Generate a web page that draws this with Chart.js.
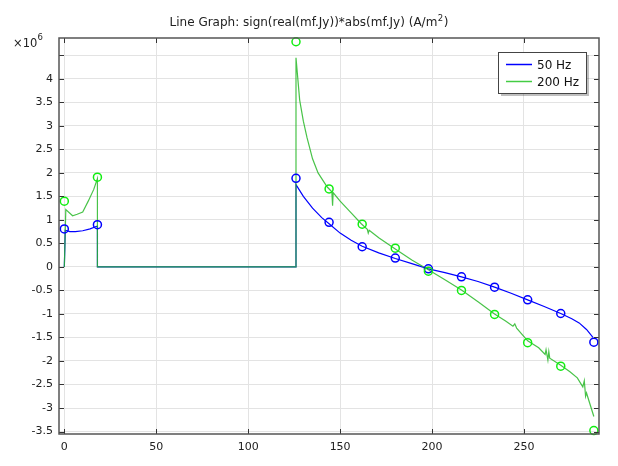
<!DOCTYPE html>
<html>
<head>
<meta charset="utf-8">
<script src="https://cdn.jsdelivr.net/npm/chart.js@4/dist/chart.umd.min.js"></script>
<style>
  html, body { margin: 0; padding: 0; background: #fff; }
  #wrap { width: 618px; height: 466px; }
</style>
</head>
<body>
<div id="wrap"><canvas id="jyGraph"></canvas></div>
<script>
  const titleMain = 'Line Graph: sign(real(mf.Jy))*abs(mf.Jy) (A/m';
  const titleSup = '2';
  const titleEnd = ')';
  const seriesNames = ['50 Hz', '200 Hz'];

  // line values, units of 1e6 A/m^2
  const x50 = [0, 0.5, 3, 6, 10, 14, 18, 18, 126, 126, 130, 135, 140, 144, 150, 156, 162, 171, 180, 189, 198, 207, 216, 225, 234, 243, 252, 261, 270, 276, 280, 284, 287.5];
  const y50 = [0, 0.78, 0.75, 0.75, 0.77, 0.81, 0.87, 0, 0, 1.75, 1.5, 1.25, 1.05, 0.92, 0.72, 0.57, 0.44, 0.3, 0.18, 0.07, -0.04, -0.12, -0.21, -0.31, -0.43, -0.56, -0.70, -0.84, -0.99, -1.1, -1.19, -1.33, -1.50];

  const x200 = [0, 0.8, 4.5, 7, 10, 13, 16, 18, 18, 126, 126, 128, 130, 132, 135, 138, 143, 145.5, 145.9, 146.2, 150, 156, 161.5, 164.8, 165.3, 165.8, 171, 180, 189, 198, 207, 216, 225, 234, 240, 244, 245, 246, 252, 258, 261.5, 262, 263, 263.5, 264, 270, 275, 279, 282, 282.8, 283.5, 284, 288];
  const y200 = [0, 1.22, 1.09, 1.12, 1.17, 1.4, 1.65, 1.88, 0, 0, 4.45, 3.55, 3.1, 2.75, 2.3, 2.0, 1.7, 1.6, 1.3, 1.58, 1.4, 1.15, 0.92, 0.8, 0.72, 0.78, 0.62, 0.38, 0.15, -0.06, -0.27, -0.49, -0.74, -1.0, -1.15, -1.26, -1.21, -1.30, -1.57, -1.72, -1.86, -1.76, -1.98, -1.8, -1.94, -2.09, -2.23, -2.36, -2.55, -2.42, -2.75, -2.68, -3.18];

  // marker points
  const markX = [0, 18, 126, 144, 162, 180, 198, 216, 234, 252, 270, 288];
  const mark50 = [0.81, 0.90, 1.885, 0.95, 0.43, 0.19, -0.04, -0.21, -0.43, -0.70, -0.99, -1.60];
  const mark200 = [1.40, 1.91, 4.79, 1.66, 0.91, 0.40, -0.09, -0.50, -1.01, -1.61, -2.11, -3.48];

  const yTicks = [-3.5, -3, -2.5, -2, -1.5, -1, -0.5, 0, 0.5, 1, 1.5, 2, 2.5, 3, 3.5, 4, 4.5];
  const xTicks = [0, 50, 100, 150, 200, 250];

  const blueCol = '#0000ff';
  const greenCol = 'rgba(40,185,40,0.85)';
  const greenMark = '#11ee11';
  const pts = (xs, ys) => xs.map((x, i) => ({ x: x, y: ys[i] }));

  const frame = {
    id: 'frame',
    afterDatasetsDraw(chart) {
      const ctx = chart.ctx;
      const a = chart.chartArea;
      const xs = chart.scales.x, ys = chart.scales.y;
      ctx.save();
      ctx.strokeStyle = '#333';
      ctx.lineWidth = 1;
      ctx.beginPath();
      xTicks.forEach(v => {
        const px = Math.round(xs.getPixelForValue(v)) + 0.5;
        ctx.moveTo(px, a.bottom); ctx.lineTo(px, a.bottom - 5);
        ctx.moveTo(px, a.top); ctx.lineTo(px, a.top + 5);
      });
      yTicks.forEach(v => {
        const py = Math.round(ys.getPixelForValue(v)) + 0.5;
        ctx.moveTo(a.left, py); ctx.lineTo(a.left + 5, py);
        ctx.moveTo(a.right, py); ctx.lineTo(a.right - 5, py);
      });
      ctx.stroke();
      ctx.strokeStyle = '#555';
      ctx.lineWidth = 1.5;
      ctx.strokeRect(a.left, a.top, a.right - a.left, a.bottom - a.top);

      // title, centred on the canvas
      ctx.fillStyle = '#222';
      ctx.textBaseline = 'alphabetic';
      ctx.textAlign = 'left';
      ctx.font = '12px "DejaVu Sans"';
      const w1 = ctx.measureText(titleMain).width;
      const w3 = ctx.measureText(titleEnd).width;
      ctx.font = '8.5px "DejaVu Sans"';
      const w2 = ctx.measureText(titleSup).width + 1;
      let tx = chart.width / 2 - (w1 + w2 + w3) / 2;
      const tb = 26;
      ctx.font = '12px "DejaVu Sans"';
      ctx.fillText(titleMain, tx, tb);
      ctx.font = '8.5px "DejaVu Sans"';
      ctx.fillText(titleSup, tx + w1 + 0.5, tb - 5);
      ctx.font = '12px "DejaVu Sans"';
      ctx.fillText(titleEnd, tx + w1 + w2, tb);

      // exponent label
      ctx.font = '11.5px "DejaVu Sans"';
      ctx.fillText('\u00D710', 13, 47);
      ctx.font = '8.5px "DejaVu Sans"';
      ctx.fillText('6', 37.5, 40);

      // legend
      const lx = 498, ly = 52, lw = 88, lh = 41;
      ctx.fillStyle = 'rgba(0,0,0,0.25)';
      ctx.fillRect(lx + 3, ly + 3, lw, lh);
      ctx.fillStyle = '#fff';
      ctx.fillRect(lx, ly, lw, lh);
      ctx.strokeStyle = '#444';
      ctx.lineWidth = 1;
      ctx.strokeRect(lx + 0.5, ly + 0.5, lw, lh);
      const cols = [blueCol, '#44cc44'];
      ctx.font = '12px "DejaVu Sans"';
      ctx.textBaseline = 'middle';
      seriesNames.forEach((name, i) => {
        const yy = ly + 12.5 + i * 17;
        ctx.strokeStyle = cols[i];
        ctx.lineWidth = 1.5;
        ctx.beginPath();
        ctx.moveTo(lx + 8, yy); ctx.lineTo(lx + 34, yy);
        ctx.stroke();
        ctx.fillStyle = '#111';
        ctx.fillText(name, lx + 39, yy + 1);
      });
      ctx.restore();
    }
  };

  new Chart(document.getElementById('jyGraph'), {
    type: 'scatter',
    data: {
      datasets: [
        { label: seriesNames[0], data: pts(x50, y50), showLine: true, borderColor: blueCol, borderWidth: 1.2, pointRadius: 0, tension: 0, order: 3 },
        { label: seriesNames[1], data: pts(x200, y200), showLine: true, borderColor: greenCol, borderWidth: 1.2, pointRadius: 0, tension: 0, order: 2 },
        { label: 'm50', data: pts(markX, mark50), showLine: false, pointStyle: 'circle', pointRadius: 4, borderColor: blueCol, backgroundColor: 'rgba(0,0,0,0)', pointBorderWidth: 1.5, clip: false, order: 1 },
        { label: 'm200', data: pts(markX, mark200), showLine: false, pointStyle: 'circle', pointRadius: 4, borderColor: greenMark, backgroundColor: 'rgba(0,0,0,0)', pointBorderWidth: 1.5, clip: false, order: 0 }
      ]
    },
    options: {
      responsive: true,
      maintainAspectRatio: false,
      animation: false,
      layout: { padding: { top: 38, right: 19, left: 0, bottom: 0 } },
      plugins: {
        legend: { display: false },
        title: { display: false },
        tooltip: { enabled: false }
      },
      scales: {
        x: {
          type: 'linear',
          min: -2.9,
          max: 290.8,
          afterFit: s => { s.height = 32; },
          afterBuildTicks: s => { s.ticks = xTicks.map(v => ({ value: v })); },
          grid: { color: '#e3e3e3', drawTicks: false },
          border: { display: false },
          ticks: { padding: 7, color: '#222', font: { family: 'DejaVu Sans', size: 11 }, maxRotation: 0 }
        },
        y: {
          type: 'linear',
          min: -3.553,
          max: 4.87,
          afterFit: s => { s.width = 59; },
          afterBuildTicks: s => { s.ticks = yTicks.map(v => ({ value: v })); },
          grid: { color: '#e3e3e3', drawTicks: false },
          border: { display: false },
          ticks: {
            padding: 6,
            color: '#222',
            font: { family: 'DejaVu Sans', size: 11 },
            callback: v => (v === 4.5 ? '' : String(v))
          }
        }
      }
    },
    plugins: [frame]
  });
</script>
</body>
</html>
